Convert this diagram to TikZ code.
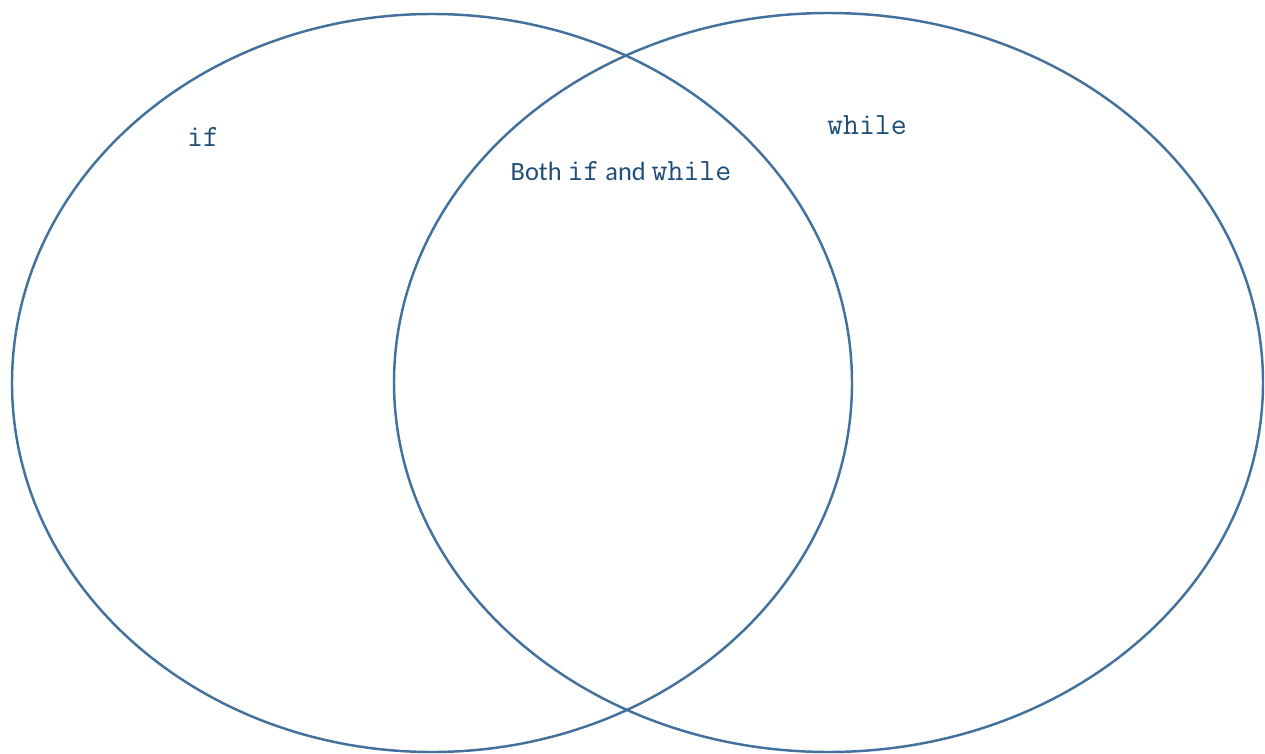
\documentclass[tikz,border=0pt]{standalone}
\usepackage{fontspec}
\setmainfont{Carlito}
\usepackage{xcolor}
\usetikzlibrary{positioning}
\definecolor{VennLine}{HTML}{41719C}
\definecolor{VennText}{HTML}{1F4E79}
\newcommand{\kw}[1]{{\fontsize{17.6}{18}\selectfont\ttfamily #1}}

\begin{document}
\begin{tikzpicture}[x=0.02cm,y=-0.02cm,every node/.style={font=\fontsize{15}{18}\selectfont, text=VennText, align=center}]
        \useasboundingbox (0,0) rectangle (1265,754);
        \draw[VennLine, line width=1.4pt] (432,383) ellipse [x radius=420, y radius=369];
        \draw[VennLine, line width=1.4pt] (828.5,382.5) ellipse [x radius=434.5, y radius=369.5];
        \node (ifset) at (203,137) {\kw{if}};
        \node (whileset) at (867,125) {\kw{while}};
        \node (bothset) at (621,171) {Both \kw{if} and \kw{while}};
    \end{tikzpicture}
\end{document}
